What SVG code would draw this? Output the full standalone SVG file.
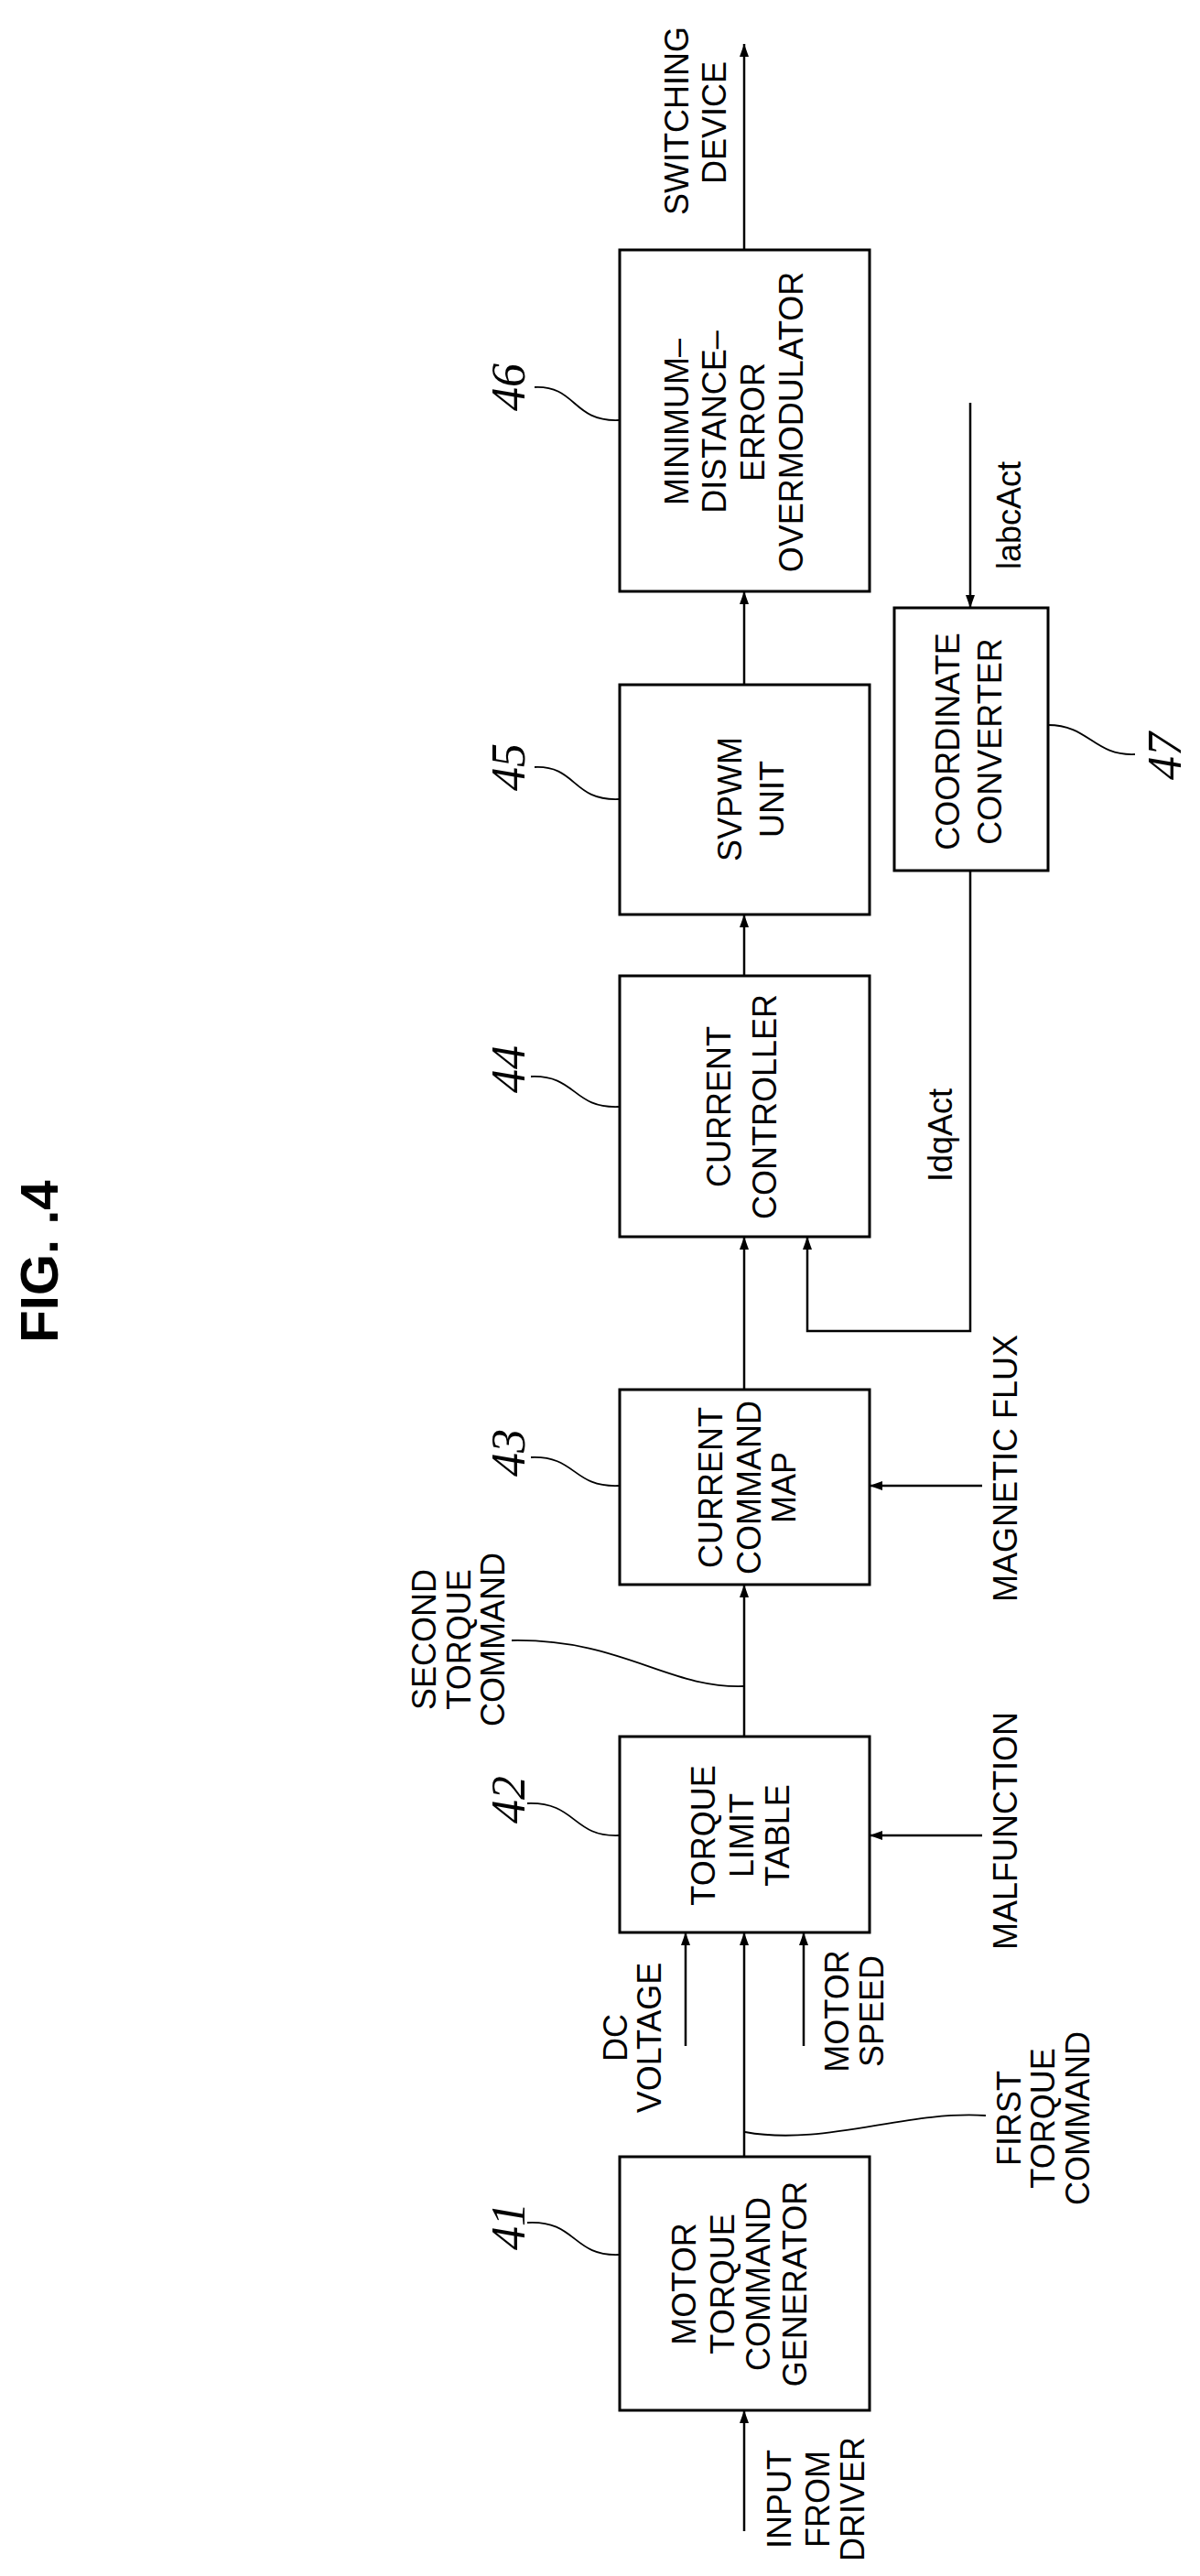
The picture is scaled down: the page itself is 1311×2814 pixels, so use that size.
<svg xmlns="http://www.w3.org/2000/svg" width="1311" height="2814" viewBox="0 0 1311 2814">
<style>
.b{fill:#fff;stroke:#000;stroke-width:3}
.c{fill:none;stroke:#000;stroke-width:2.5}
.l{fill:none;stroke:#000;stroke-width:1.8}
.t{font-family:"Liberation Sans",Arial,sans-serif;font-size:36px;fill:#000;text-anchor:middle;dominant-baseline:central}
.n{font-family:"Liberation Serif",serif;font-style:italic;font-size:52px;fill:#000;text-anchor:middle;dominant-baseline:central}
</style>
<defs>
<marker id="a" viewBox="0 0 14 10" refX="14" refY="5" markerWidth="14" markerHeight="10" markerUnits="userSpaceOnUse" orient="auto">
<path d="M0,0 L14,5 L0,10 Z" fill="#000"/>
</marker>
</defs>
<text x="42" y="1378" transform="rotate(-90 42 1378)" style="font-family:'Liberation Sans',Arial,sans-serif;font-weight:bold;font-size:58px;text-anchor:middle;dominant-baseline:central">FIG. .4</text>
<g id="connectors">
<path class="c" d="M813,2765 V2633" marker-end="url(#a)"/>
<path class="c" d="M813,2356 V2111" marker-end="url(#a)"/>
<path class="c" d="M749,2235 V2111" marker-end="url(#a)"/>
<path class="c" d="M878,2235 V2111" marker-end="url(#a)"/>
<path class="c" d="M1073,2005 H950" marker-end="url(#a)"/>
<path class="c" d="M813,1897 V1731" marker-end="url(#a)"/>
<path class="c" d="M1073,1623 H950" marker-end="url(#a)"/>
<path class="c" d="M813,1518 V1351" marker-end="url(#a)"/>
<path class="c" d="M1060,951 V1454 H882 V1351" marker-end="url(#a)"/>
<path class="c" d="M813,1066 V999" marker-end="url(#a)"/>
<path class="c" d="M813,748 V646" marker-end="url(#a)"/>
<path class="c" d="M813,273 V48" marker-end="url(#a)"/>
<path class="c" d="M1060,440 V664" marker-end="url(#a)"/>
<path class="l" d="M814,2329 C900,2345 990,2305 1077,2311"/>
<path class="l" d="M813,1842 C730,1845 680,1790 559,1792"/>
</g>
<g id="n41">
<rect class="b" x="677" y="2356" width="273" height="277"/>
<text class="t" transform="translate(747,2495) rotate(-90)">MOTOR</text>
<text class="t" transform="translate(789,2495) rotate(-90)">TORQUE</text>
<text class="t" transform="translate(828,2495) rotate(-90)">COMMAND</text>
<text class="t" transform="translate(868,2495) rotate(-90)">GENERATOR</text>
<text class="n" transform="translate(555,2432) rotate(-90)">41</text>
<path class="l" d="M576,2428 C630,2425 625,2465 676,2463"/>
</g>
<g id="n42">
<rect class="b" x="677" y="1897" width="273" height="214"/>
<text class="t" transform="translate(768,2005) rotate(-90)">TORQUE</text>
<text class="t" transform="translate(810,2005) rotate(-90)">LIMIT</text>
<text class="t" transform="translate(849,2005) rotate(-90)">TABLE</text>
<text class="n" transform="translate(555,1966) rotate(-90)">42</text>
<path class="l" d="M576,1970 C630,1968 625,2007 676,2005"/>
</g>
<g id="n43">
<rect class="b" x="677" y="1518" width="273" height="213"/>
<text class="t" transform="translate(776,1625) rotate(-90)">CURRENT</text>
<text class="t" transform="translate(818,1625) rotate(-90)">COMMAND</text>
<text class="t" transform="translate(856,1625) rotate(-90)">MAP</text>
<text class="n" transform="translate(555,1587) rotate(-90)">43</text>
<path class="l" d="M580,1592 C630,1590 625,1625 676,1623"/>
</g>
<g id="n44">
<rect class="b" x="677" y="1066" width="273" height="285"/>
<text class="t" transform="translate(785,1209) rotate(-90)">CURRENT</text>
<text class="t" transform="translate(835,1209) rotate(-90)">CONTROLLER</text>
<text class="n" transform="translate(555,1168) rotate(-90)">44</text>
<path class="l" d="M580,1176 C630,1174 625,1211 676,1209"/>
</g>
<g id="n45">
<rect class="b" x="677" y="748" width="273" height="251"/>
<text class="t" transform="translate(797,873) rotate(-90)">SVPWM</text>
<text class="t" transform="translate(843,873) rotate(-90)">UNIT</text>
<text class="n" transform="translate(555,838) rotate(-90)">45</text>
<path class="l" d="M584,838 C630,836 625,875 676,873"/>
</g>
<g id="n46">
<rect class="b" x="677" y="273" width="273" height="373"/>
<text class="t" transform="translate(739,461) rotate(-90)">MINIMUM–</text>
<text class="t" transform="translate(780,461) rotate(-90)">DISTANCE–</text>
<text class="t" transform="translate(822,461) rotate(-90)">ERROR</text>
<text class="t" transform="translate(864,461) rotate(-90)">OVERMODULATOR</text>
<text class="n" transform="translate(555,423) rotate(-90)">46</text>
<path class="l" d="M584,423 C630,421 625,461 676,459"/>
</g>
<g id="n47">
<rect class="b" x="977" y="664" width="168" height="287"/>
<text class="t" transform="translate(1035,810) rotate(-90)">COORDINATE</text>
<text class="t" transform="translate(1081,810) rotate(-90)">CONVERTER</text>
<text class="n" transform="translate(1272,826) rotate(-90)">47</text>
<path class="l" d="M1145,792 C1190,792 1195,826 1240,824"/>
</g>
<g id="labels">
<text class="t" transform="translate(739,132) rotate(-90)">SWITCHING</text>
<text class="t" transform="translate(780,134) rotate(-90)">DEVICE</text>
<text class="t" transform="translate(1102,563) rotate(-90)">labcAct</text>
<text class="t" transform="translate(1027,1240) rotate(-90)">IdqAct</text>
<text class="t" transform="translate(1098,1604) rotate(-90)">MAGNETIC FLUX</text>
<text class="t" transform="translate(1098,2000) rotate(-90)">MALFUNCTION</text>
<text class="t" transform="translate(463,1791) rotate(-90)">SECOND</text>
<text class="t" transform="translate(501,1791) rotate(-90)">TORQUE</text>
<text class="t" transform="translate(538,1791) rotate(-90)">COMMAND</text>
<text class="t" transform="translate(672,2226) rotate(-90)">DC</text>
<text class="t" transform="translate(709,2226) rotate(-90)">VOLTAGE</text>
<text class="t" transform="translate(914,2197) rotate(-90)">MOTOR</text>
<text class="t" transform="translate(952,2197) rotate(-90)">SPEED</text>
<text class="t" transform="translate(1102,2314) rotate(-90)">FIRST</text>
<text class="t" transform="translate(1139,2314) rotate(-90)">TORQUE</text>
<text class="t" transform="translate(1177,2314) rotate(-90)">COMMAND</text>
<text class="t" transform="translate(851,2730) rotate(-90)">INPUT</text>
<text class="t" transform="translate(893,2730) rotate(-90)">FROM</text>
<text class="t" transform="translate(931,2730) rotate(-90)">DRIVER</text>
</g>
</svg>
